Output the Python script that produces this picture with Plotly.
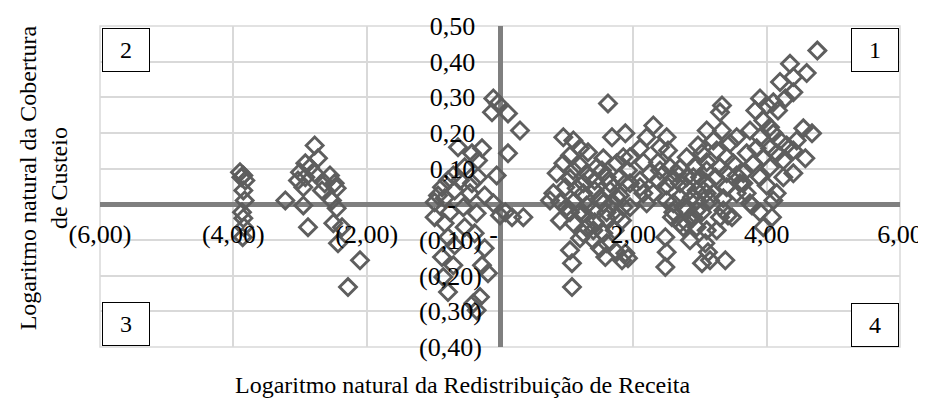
import plotly.graph_objects as go

# ---- data ----
x_vals = [
    # cluster near -3.9
    -3.9, -3.85, -3.88, -3.82, -3.85, -3.83, -3.87, -3.85, -3.84, -3.86,
    # cluster near -2.8
    -2.78, -2.73, -2.92, -3.0, -2.85, -2.78, -3.03, -2.92, -2.55, -2.48,
    -2.63, -2.67, -2.45, -2.95, -3.22, -2.95, -2.52, -2.45, -2.88, -2.5,
    -2.37, -2.43, -2.1, -2.28,
    # cluster near 0
    -0.1, -0.03, -0.12, 0.12, 0.3, 0.12, -0.05, -0.63, -0.27, -0.42,
    -0.33, -0.53, -0.7, -0.78, -0.6, -0.42, -0.33, -0.87, -0.68, -0.93,
    -0.45, -0.23, -0.83, -0.98, -0.1, -0.55, -0.35, -0.98, -0.75, 0.08,
    0.18, 0.35, 0.0, -0.83, -0.53, -0.38, -0.78, -0.23, -0.68, -0.87,
    -0.7, -0.27, -0.18, -0.85, -0.78, -0.3, -0.4, -0.35,
    # right tail
    4.76, 4.35, 4.6, 4.4, 4.2, 4.4, 4.28, 3.9, 4.1, 4.17,
    3.83, 4.0, 3.33, 3.3, 3.95, 3.75, 4.05, 3.9, 4.1, 4.55,
    4.68, 4.45, 4.3, 4.2, 3.85, 4.05, 3.7, 3.95, 4.15, 4.4,
    4.58, 4.25, 3.8, 4.05, 4.4, 3.65, 4.25, 3.9, 3.6, 4.0,
    3.7, 4.15, 4.1, 3.78, 3.9, 4.08, 3.95,
    # middle-right cluster
    3.33, 3.55, 3.45, 3.1, 3.2, 2.97, 2.8, 3.03, 3.25, 3.4,
    3.1, 3.3, 2.93, 2.7, 2.8, 3.0, 3.23, 3.4, 3.55, 3.65,
    3.1, 2.8, 2.95, 3.2, 3.55, 2.7, 2.88, 3.1, 3.35, 3.75,
    2.6, 2.75, 2.95, 3.35, 2.6, 3.03, 3.42, 3.3, 2.8, 2.95,
    2.75, 3.48, 3.1, 3.25, 2.85, 3.08, 3.12, 3.03, 3.38, 3.15,
    2.48, 2.5, 2.48, 2.7,
    # left-right cluster
    0.95, 1.1, 1.62, 1.68, 1.88, 2.3, 2.2, 2.5, 2.1, 2.4,
    2.52, 1.95, 1.32, 1.2, 1.05, 0.95, 1.2, 1.55, 1.45, 1.75,
    1.85, 2.15, 2.37, 2.55, 0.85, 1.05, 1.3, 1.42, 1.6, 1.8,
    1.95, 2.25, 2.37, 2.5, 2.65, 2.1, 0.8, 0.98, 1.15, 1.25,
    1.42, 1.65, 1.8, 1.88, 2.15, 2.3, 0.75, 0.9, 1.1, 1.3,
    1.55, 1.7, 2.2, 2.5, 1.05, 1.2, 1.4, 1.6, 1.75, 0.9,
    1.1, 1.3, 1.42, 1.6, 1.83, 1.2, 1.4, 1.55, 1.72, 1.6,
    1.5, 1.75, 1.88, 1.58, 1.83, 1.92, 1.05, 1.08, 1.08,
    # extra points in the dense band
    1.1, 1.35, 1.53, 1.25, 1.65, 1.92, 1.75, 1.95, 2.1, 2.4,
    2.58, 2.7, 2.9, 3.1, 3.05, 3.15, 2.95, 2.8, 2.58, 2.9,
    3.4, 3.5, 1.25, 1.0, 1.5, 1.85, 1.4, 1.25,
]
y_vals = [
    0.09, 0.081, 0.076, 0.067, 0.039, 0.011, -0.022, -0.039, -0.064, -0.092,
    0.165, 0.129, 0.115, 0.09, 0.104, 0.087, 0.067, 0.076, 0.081, 0.059,
    0.059, 0.039, 0.045, 0.048, 0.011, -0.003, 0.011, -0.011, -0.064, -0.053,
    -0.064, -0.109, -0.157, -0.232,
    0.297, 0.283, 0.258, 0.255, 0.207, 0.143, 0.081, 0.16, 0.157, 0.143,
    0.123, 0.104, 0.081, 0.067, 0.067, 0.059, 0.076, 0.048, 0.039, 0.025,
    0.031, 0.025, 0.017, 0.006, 0.003, -0.008, -0.025, -0.036, -0.022, -0.022,
    -0.036, -0.036, -0.031, -0.053, -0.064, -0.081, -0.092, -0.123, -0.115, -0.148,
    -0.171, -0.171, -0.193, -0.204, -0.246, -0.26, -0.277, -0.297,
    0.431, 0.394, 0.368, 0.357, 0.343, 0.314, 0.297, 0.297, 0.286, 0.263,
    0.263, 0.277, 0.277, 0.258, 0.235, 0.207, 0.216, 0.188, 0.199, 0.213,
    0.199, 0.179, 0.165, 0.179, 0.157, 0.157, 0.143, 0.132, 0.143, 0.151,
    0.129, 0.123, 0.115, 0.104, 0.087, 0.087, 0.076, 0.076, 0.059, 0.053,
    0.031, 0.031, 0.011, -0.003, -0.022, -0.036, -0.064,
    0.207, 0.188, 0.171, 0.207, 0.179, 0.165, 0.132, 0.143, 0.151, 0.132,
    0.118, 0.104, 0.104, 0.101, 0.076, 0.076, 0.076, 0.087, 0.081, 0.059,
    0.059, 0.048, 0.039, 0.031, 0.031, 0.02, 0.02, 0.031, 0.017, 0.003,
    0.003, -0.008, -0.017, -0.017, -0.022, -0.022, -0.031, -0.036, -0.053, -0.064,
    -0.064, -0.036, -0.073, -0.073, -0.101, -0.109, -0.134, -0.165, -0.157, -0.157,
    -0.092, -0.134, -0.176, -0.053,
    0.188, 0.179, 0.283, 0.188, 0.199, 0.221, 0.188, 0.188, 0.157, 0.16,
    0.151, 0.132, 0.146, 0.157, 0.137, 0.115, 0.109, 0.129, 0.104, 0.115,
    0.132, 0.118, 0.118, 0.104, 0.087, 0.073, 0.087, 0.067, 0.076, 0.076,
    0.059, 0.087, 0.067, 0.053, 0.087, 0.067, 0.031, 0.048, 0.045, 0.031,
    0.039, 0.039, 0.025, 0.059, 0.031, 0.031, 0.011, 0.006, 0.006, -0.003,
    0.003, 0.003, 0.003, 0.011, -0.022, -0.022, -0.017, -0.022, -0.031, -0.045,
    -0.053, -0.064, -0.05, -0.039, -0.045, -0.095, -0.101, -0.081, -0.073, -0.109,
    -0.123, -0.134, -0.137, -0.148, -0.157, -0.151, -0.129, -0.165, -0.232,
    0.095, 0.076, 0.095, 0.059, 0.059, 0.095, 0.02, -0.008, 0.048, 0.095,
    0.067, 0.059, 0.076, 0.095, 0.039, 0.011, 0.011, -0.017, -0.036, -0.036,
    0.048, 0.115, -0.025, -0.008, 0.017, -0.008, -0.073, -0.081,
]

x_tickvals = [-6, -4, -2, 0, 2, 4, 6]
x_ticktext = ["(6,00)", "(4,00)", "(2,00)", "-\u00a0\u00a0", "2,00", "4,00", "6,00"]
y_tickvals = [0.5, 0.4, 0.3, 0.2, 0.1, 0.0, -0.1, -0.2, -0.3, -0.4]
y_ticktext = ["0,50\u00a0", "0,40\u00a0", "0,30\u00a0", "0,20\u00a0", "0,10\u00a0",
              "-\u00a0\u00a0\u00a0\u00a0", "(0,10)", "(0,20)", "(0,30)", "(0,40)"]
quadrant_labels = ["1", "2", "3", "4"]

FONT = "Liberation Serif"

fig = go.Figure()
fig.add_trace(go.Scatter(
    x=x_vals, y=y_vals, mode="markers",
    marker=dict(symbol="diamond-open", size=13, color="#5e5e5e",
                line=dict(width=2.9, color="#5e5e5e")),
    showlegend=False, hoverinfo="x+y",
))

# the page body adds an 8px offset, so the figure is 8px smaller than the window
fig.update_layout(
    width=918, height=395,
    margin=dict(l=92, r=26, t=18, b=56, autoexpand=False),
    paper_bgcolor="white", plot_bgcolor="white",
    font=dict(family=FONT, size=26, color="black"),
    xaxis=dict(range=[-6, 6], tickvals=x_tickvals, ticktext=x_ticktext,
               anchor="free", position=0.4 / 0.9, showline=False,
               automargin=False,
               showgrid=True, gridcolor="#d9d9d9", gridwidth=1.5,
               zeroline=True, zerolinecolor="#7f7f7f", zerolinewidth=5,
               ticks="outside", ticklen=6, tickcolor="rgba(0,0,0,0)",
               tickfont=dict(family=FONT, size=26, color="black")),
    yaxis=dict(range=[-0.4, 0.5], tickvals=y_tickvals, ticktext=y_ticktext,
               anchor="free", position=0.5, showline=False,
               automargin=False,
               showgrid=True, gridcolor="#d9d9d9", gridwidth=1.5,
               zeroline=True, zerolinecolor="#7f7f7f", zerolinewidth=5,
               ticks="outside", ticklen=13, tickcolor="rgba(0,0,0,0)",
               tickfont=dict(family=FONT, size=26, color="black")),
)

# plot-area border (light grid colour)
fig.add_shape(type="rect", xref="paper", yref="paper", x0=0, y0=0, x1=1, y1=1,
              line=dict(color="#d9d9d9", width=1.5), layer="below")

# axis titles
fig.add_annotation(text="Logaritmo natural da Redistribuição de Receita",
                   xref="paper", yref="paper", x=0.454, y=-0.118,
                   xanchor="center", yanchor="middle", showarrow=False,
                   font=dict(family=FONT, size=24, color="black"))
fig.add_annotation(text="Logaritmo natural da Cobertura<br>de Custeio",
                   xref="paper", yref="paper", x=-0.071, y=0.526,
                   xanchor="center", yanchor="middle", showarrow=False,
                   textangle=-90,
                   font=dict(family=FONT, size=24, color="black"))

# quadrant boxes
box_pos = {"1": (6, 0.5, "right", "top", -1, -2),
           "2": (-6, 0.5, "left", "top", 2, -2),
           "3": (-6, -0.4, "left", "bottom", 2, 1),
           "4": (6, -0.4, "right", "bottom", -1, 0)}
for q in quadrant_labels:
    bx, by, xa, ya, xs, ys = box_pos[q]
    fig.add_annotation(text=q, x=bx, y=by, xref="x", yref="y",
                       xanchor=xa, yanchor=ya, xshift=xs, yshift=ys,
                       showarrow=False, width=46, height=42,
                       bordercolor="black", borderwidth=1, borderpad=0,
                       bgcolor="white", align="center",
                       font=dict(family=FONT, size=24, color="black"))

fig.write_html("out.html")
